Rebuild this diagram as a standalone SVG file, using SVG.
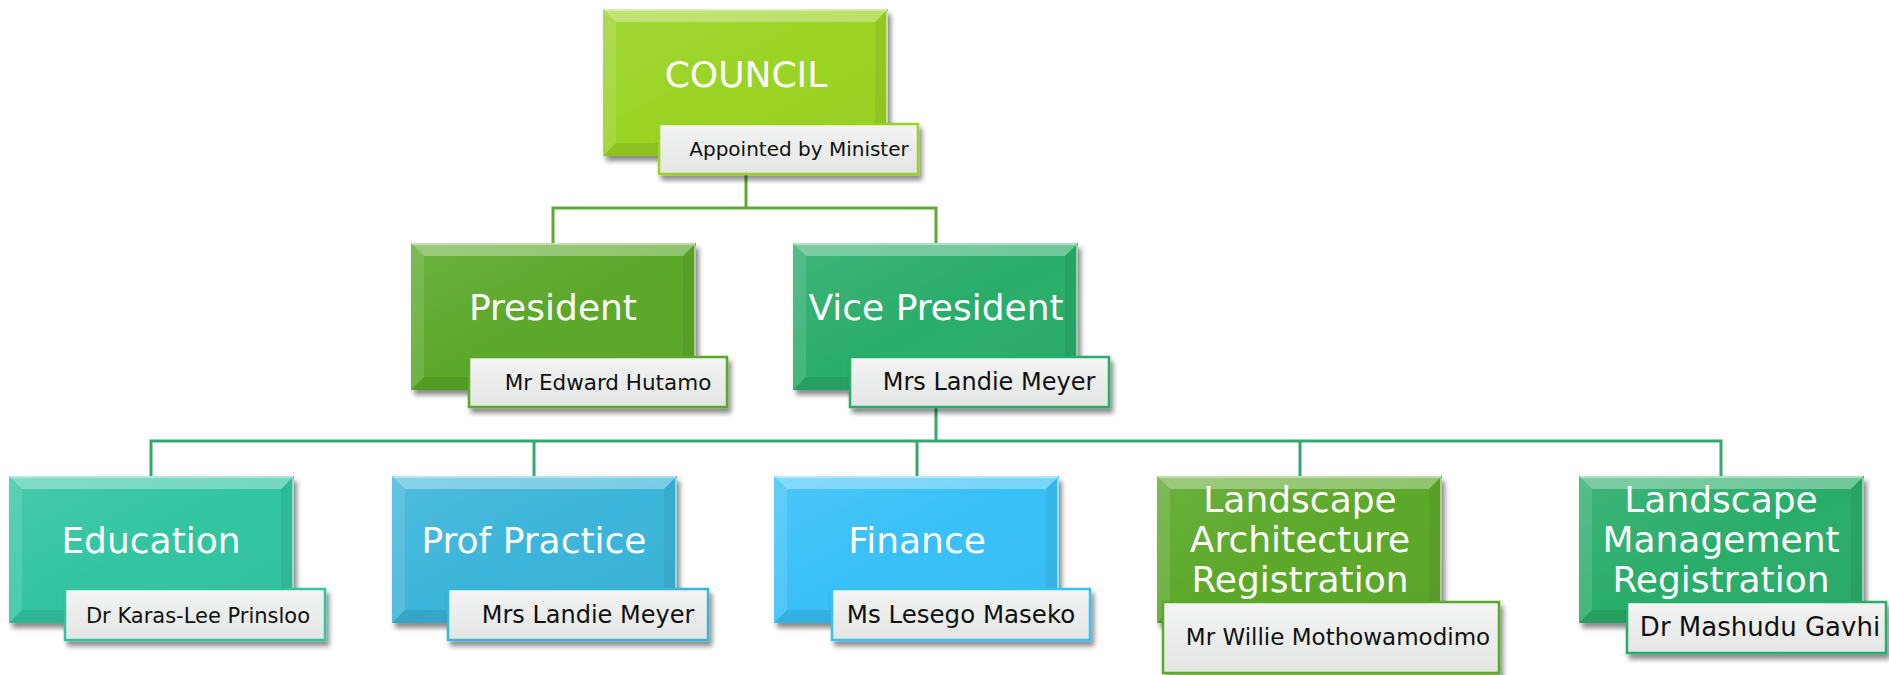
<svg xmlns="http://www.w3.org/2000/svg" width="1889" height="675" viewBox="0 0 1889 675">
<style>
.title{font-family:"DejaVu Sans","Liberation Sans",sans-serif;font-size:36px;fill:#ffffff;text-anchor:middle}
.lbl{font-family:"DejaVu Sans","Liberation Sans",sans-serif;fill:#111111;text-anchor:middle}
.conn{fill:none;stroke-width:3}
.lab{stroke-width:2.5}
</style>
<defs>
<filter id="sh" x="-10%" y="-10%" width="125%" height="130%">
<feDropShadow dx="3" dy="5" stdDeviation="2.5" flood-color="#000" flood-opacity="0.45"/>
</filter>
<linearGradient id="lg" x1="0" y1="0" x2="0" y2="1">
<stop offset="0" stop-color="#f3f4f3"/>
<stop offset="1" stop-color="#e3e6e4"/>
</linearGradient>
<linearGradient id="sheen" x1="0" y1="0" x2="1" y2="1">
<stop offset="0" stop-color="#fff" stop-opacity="0.10"/>
<stop offset="0.5" stop-color="#fff" stop-opacity="0"/>
<stop offset="1" stop-color="#000" stop-opacity="0.04"/>
</linearGradient>
<g id="bevel">
<rect x="0" y="0" width="285" height="147" fill="url(#sheen)"/>
<polygon points="0,0 285,0 272,13 13,13" fill="#ffffff" fill-opacity="0.33"/>
<polygon points="0,0 13,13 13,134 0,147" fill="#ffffff" fill-opacity="0.12"/>
<polygon points="285,0 285,147 272,134 272,13" fill="#000000" fill-opacity="0.05"/>
<polygon points="0,147 13,134 272,134 285,147" fill="#000000" fill-opacity="0.08"/>
<line x1="284" y1="2" x2="284" y2="145" stroke="#ffffff" stroke-opacity="0.5" stroke-width="2"/>
<line x1="1" y1="1" x2="284" y2="1" stroke="#ffffff" stroke-opacity="0.4" stroke-width="2"/>
</g>
</defs>

<g id="connectors">
<polyline class="conn" stroke="#5fa833" points="746,174 746,208"/>
<polyline class="conn" stroke="#5fa833" points="553,243 553,208 936,208 936,243"/>
<polyline class="conn" stroke="#34a86e" stroke-width="4" points="936,407 936,441"/>
<polyline class="conn" stroke="#34a86e" points="151,476 151,441 1721,441 1721,476"/>
<polyline class="conn" stroke="#34a86e" points="534,441 534,476"/>
<polyline class="conn" stroke="#34a86e" points="917,441 917,476"/>
<polyline class="conn" stroke="#34a86e" points="1300,441 1300,476"/>
</g>

<g id="node-council">
<rect x="603" y="9" width="285" height="147" fill="#9ad322" filter="url(#sh)"/>
<use href="#bevel" x="603" y="9"/>
<text class="title" x="746" y="87" font-size="37">COUNCIL</text>
<rect class="lab" x="659" y="124" width="259" height="50" fill="url(#lg)" stroke="#9ad322" filter="url(#sh)"/>
<text class="lbl" x="799" y="156" font-size="20">Appointed by Minister</text>
</g>

<g id="node-president">
<rect x="411" y="243" width="285" height="147" fill="#5ba829" filter="url(#sh)"/>
<use href="#bevel" x="411" y="243"/>
<text class="title" x="553" y="320">President</text>
<rect class="lab" x="469" y="357" width="258" height="50" fill="url(#lg)" stroke="#5ba829" filter="url(#sh)"/>
<text class="lbl" x="608" y="390" font-size="21.5">Mr Edward Hutamo</text>
</g>

<g id="node-vicepresident">
<rect x="793" y="243" width="285" height="147" fill="#29ad6b" filter="url(#sh)"/>
<use href="#bevel" x="793" y="243"/>
<text class="title" x="936" y="320">Vice President</text>
<rect class="lab" x="850" y="357" width="259" height="50" fill="url(#lg)" stroke="#29ad6b" filter="url(#sh)"/>
<text class="lbl" x="989" y="390" font-size="24">Mrs Landie Meyer</text>
</g>

<g id="node-education">
<rect x="9" y="476" width="285" height="147" fill="#32c5a0" filter="url(#sh)"/>
<use href="#bevel" x="9" y="476"/>
<text class="title" x="151" y="553">Education</text>
<rect class="lab" x="65" y="589" width="260" height="51" fill="url(#lg)" stroke="#32c5a0" filter="url(#sh)"/>
<text class="lbl" x="198" y="623" font-size="21">Dr Karas-Lee Prinsloo</text>
</g>

<g id="node-profpractice">
<rect x="392" y="476" width="285" height="147" fill="#3ab5d9" filter="url(#sh)"/>
<use href="#bevel" x="392" y="476"/>
<text class="title" x="534" y="553">Prof Practice</text>
<rect class="lab" x="448" y="589" width="260" height="51" fill="url(#lg)" stroke="#3ab5d9" filter="url(#sh)"/>
<text class="lbl" x="588" y="623" font-size="24">Mrs Landie Meyer</text>
</g>

<g id="node-finance">
<rect x="774" y="476" width="285" height="147" fill="#38c0f7" filter="url(#sh)"/>
<use href="#bevel" x="774" y="476"/>
<text class="title" x="917" y="553">Finance</text>
<rect class="lab" x="832" y="589" width="258" height="51" fill="url(#lg)" stroke="#38c0f7" filter="url(#sh)"/>
<text class="lbl" x="961" y="623" font-size="24.5">Ms Lesego Maseko</text>
</g>

<g id="node-la-registration">
<rect x="1157" y="476" width="285" height="147" fill="#5ba829" filter="url(#sh)"/>
<use href="#bevel" x="1157" y="476"/>
<text class="title" x="1300" y="512">Landscape</text>
<text class="title" x="1300" y="552">Architecture</text>
<text class="title" x="1300" y="592">Registration</text>
<rect class="lab" x="1163" y="602" width="336" height="71" fill="url(#lg)" stroke="#5ba829" filter="url(#sh)"/>
<text class="lbl" x="1338" y="645" font-size="23">Mr Willie Mothowamodimo</text>
</g>

<g id="node-lm-registration">
<rect x="1579" y="476" width="285" height="147" fill="#29ad6b" filter="url(#sh)"/>
<use href="#bevel" x="1579" y="476"/>
<text class="title" x="1721" y="512">Landscape</text>
<text class="title" x="1721" y="552">Management</text>
<text class="title" x="1721" y="592">Registration</text>
<rect class="lab" x="1627" y="602" width="259" height="51" fill="url(#lg)" stroke="#29ad6b" filter="url(#sh)"/>
<text class="lbl" x="1760" y="636" font-size="26">Dr Mashudu Gavhi</text>
</g>
</svg>
